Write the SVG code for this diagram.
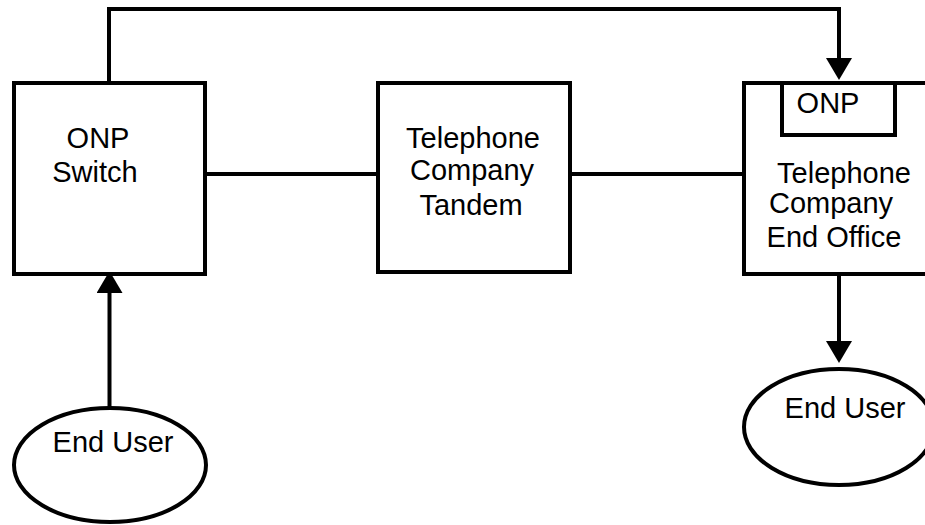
<svg xmlns="http://www.w3.org/2000/svg" width="925" height="525" viewBox="0 0 925 525">
<style>
.box{fill:#fff;stroke:#000;stroke-width:4}
.ln{fill:none;stroke:#000;stroke-width:4}
text{font-family:"Liberation Sans",Arial,sans-serif;font-size:29px;fill:#000;text-anchor:middle}
</style>
<defs>
<marker id="arr" viewBox="0 0 22 26" refX="0" refY="13" markerWidth="22" markerHeight="26" markerUnits="userSpaceOnUse" orient="auto">
<path d="M0,0 L22,13 L0,26 Z" fill="#000"/>
</marker>
</defs>
<rect width="925" height="525" fill="#fff"/>
<g id="connectors">
<path class="ln" d="M109,83 V9 H839 V58" marker-end="url(#arr)"/>
<path class="ln" d="M205,174 H378"/>
<path class="ln" d="M570,174 H744"/>
<path class="ln" d="M109.5,408 V293" marker-end="url(#arr)"/>
<path class="ln" d="M839,274 V341" marker-end="url(#arr)"/>
</g>
<g id="onp-switch">
<rect class="box" x="14" y="83" width="191" height="191"/>
<text x="98" y="148">ONP</text>
<text x="95" y="182">Switch</text>
</g>
<g id="tandem">
<rect class="box" x="378" y="83" width="192" height="189"/>
<text x="473" y="148">Telephone</text>
<text x="472" y="180">Company</text>
<text x="471" y="215">Tandem</text>
</g>
<g id="end-office">
<rect class="box" x="744" y="83" width="200" height="191"/>
<text x="844" y="183">Telephone</text>
<text x="831" y="213">Company</text>
<text x="834" y="247">End Office</text>
</g>
<g id="onp-module">
<rect class="box" x="782" y="83" width="113" height="52"/>
<text x="828" y="113">ONP</text>
</g>
<g id="end-user-left">
<ellipse class="box" cx="110" cy="465" rx="96" ry="57"/>
<text x="113" y="452">End User</text>
</g>
<g id="end-user-right">
<ellipse class="box" cx="839" cy="427" rx="95" ry="58"/>
<text x="845" y="418">End User</text>
</g>
</svg>
